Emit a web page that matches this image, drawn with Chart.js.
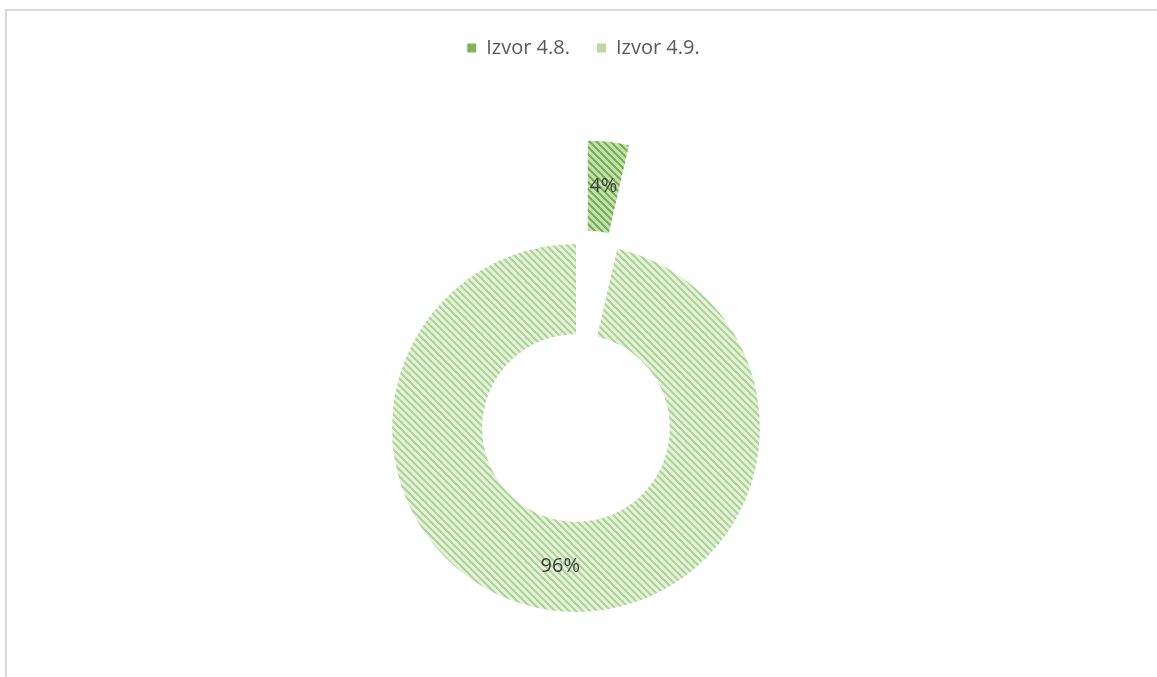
<!DOCTYPE html>
<html>
<head>
<meta charset="utf-8">
<script src="https://cdn.jsdelivr.net/npm/chart.js@4/dist/chart.umd.min.js"></script>
<style>
  html, body { margin: 0; padding: 0; background: #fff; overflow: hidden; }
  #frame {
    position: absolute; left: 5px; top: 9px; width: 1160px; height: 680px;
    border-left: 2px solid #d9d9d9; border-top: 2px solid #d9d9d9;
  }
  #wrap { position: absolute; left: 0; top: 0; width: 1157px; height: 677px; }
</style>
</head>
<body>
<div id="frame"></div>
<div id="wrap"><canvas id="myChart" width="1157" height="677"></canvas></div>
<script>
const labels = ["Izvor 4.8.", "Izvor 4.9."];
const shares = [3.6, 96.4];

// hatch fills like the office pattern fill
function hatch(bg, fg) {
  const c = document.createElement("canvas");
  c.width = 7;
  c.height = 7;
  const g = c.getContext("2d");
  g.fillStyle = bg;
  g.fillRect(0, 0, 7, 7);
  g.strokeStyle = fg;
  g.lineWidth = 2;
  g.beginPath();
  g.moveTo(-2, -2); g.lineTo(9, 9);
  g.moveTo(-2, 5); g.lineTo(2, 9);
  g.moveTo(5, -2); g.lineTo(9, 2);
  g.stroke();
  return g.createPattern(c, "repeat");
}

const fills = [hatch("#c6e1b5", "#72ae49"), hatch("#e6f2de", "#acd392")];
const swatches = ["#7db657", "#b7da9f"];
const explode = [104, 0];
const center = { x: 576, y: 428 };

Chart.defaults.font.family = "'Open Sans', sans-serif";

const placeDonut = {
  id: "placeDonut",
  afterLayout(chart) {
    chart.chartArea = {
      left: center.x - 300, right: center.x + 300,
      top: center.y - 300, bottom: center.y + 300,
      width: 600, height: 600,
    };
  },
  afterDatasetUpdate(chart, args) {
    args.meta.data.forEach((arc, i) => {
      const d = explode[i] || 0;
      const mid = (arc.startAngle + arc.endAngle) / 2;
      arc.x += Math.cos(mid) * d;
      arc.y += Math.sin(mid) * d;
    });
  },
};

const sliceLabels = {
  id: "sliceLabels",
  afterDatasetsDraw(chart) {
    const ctx = chart.ctx;
    const meta = chart.getDatasetMeta(0);
    const data = chart.data.datasets[0].data;
    const total = data.reduce((a, b) => a + b, 0);
    ctx.save();
    ctx.font = "20px 'Open Sans', sans-serif";
    ctx.fillStyle = "#404040";
    ctx.textAlign = "center";
    ctx.textBaseline = "middle";
    meta.data.forEach((arc, i) => {
      const p = arc.tooltipPosition();
      ctx.fillText(Math.round((data[i] / total) * 100) + "%", p.x, p.y);
    });
    ctx.restore();
  },
};

var ctx = document.getElementById("myChart").getContext("2d");
var chart = new Chart(ctx, {
  type: "doughnut",
  data: {
    labels: labels,
    datasets: [
      {
        data: shares,
        backgroundColor: fills,
        borderWidth: 0,
        radius: 184,
        cutout: "51%",
        clip: false,
      },
    ],
  },
  options: {
    responsive: false,
    animation: false,
    layout: { padding: { top: 11, left: 10 } },
    plugins: {
      legend: {
        position: "top",
        labels: {
          color: "#595959",
          font: { size: 20 },
          boxWidth: 9,
          boxHeight: 9,
          padding: 27,
          generateLabels(chart) {
            const items = Chart.overrides.doughnut.plugins.legend.labels.generateLabels(chart);
            items.forEach((item, i) => {
              item.fillStyle = swatches[i];
              item.lineWidth = 0;
            });
            return items;
          },
        },
      },
      tooltip: { enabled: false },
    },
  },
  plugins: [placeDonut, sliceLabels],
});
</script>
</body>
</html>
